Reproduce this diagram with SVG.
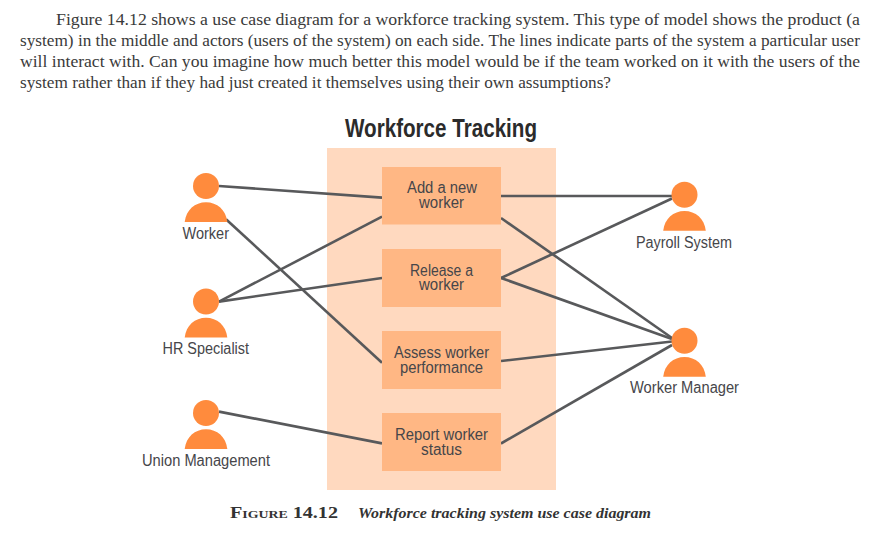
<svg xmlns="http://www.w3.org/2000/svg" width="888" height="535" viewBox="0 0 888 535">
<style>
.body{font:16.5px "Liberation Serif",serif;fill:#3a3a3a}
.title{font:bold 25px "Liberation Sans",Arial,sans-serif;fill:#2b2b2b}
.lbl{font:16px "Liberation Sans",Arial,sans-serif;fill:#46464a;text-anchor:start}
.box{fill:#ffb784}
.fig{fill:#ff8b3d}
.conn line{stroke:#58595b;stroke-width:2.6;fill:none}
.cap1{font:bold 16px "Liberation Serif",serif;font-variant:small-caps;fill:#333}
.cap2{font:italic bold 14.5px "Liberation Serif",serif;fill:#333}
</style>
<defs>
<g id="actor"><circle class="fig" cx="0" cy="0" r="13"/><path class="fig" d="M-21.3,36 C-20,24 -11,16.3 0,16.3 C11,16.3 20,24 21.3,36 Z"/></g>
</defs>
<g id="intro">
<text class="body" x="56" y="25" textLength="804" lengthAdjust="spacingAndGlyphs">Figure 14.12 shows a use case diagram for a workforce tracking system. This type of model shows the product (a</text>
<text class="body" x="20" y="46" textLength="840" lengthAdjust="spacingAndGlyphs">system) in the middle and actors (users of the system) on each side. The lines indicate parts of the system a particular user</text>
<text class="body" x="20" y="67" textLength="840" lengthAdjust="spacingAndGlyphs">will interact with. Can you imagine how much better this model would be if the team worked on it with the users of the</text>
<text class="body" x="20" y="88" textLength="591" lengthAdjust="spacingAndGlyphs">system rather than if they had just created it themselves using their own assumptions?</text>
</g>
<text id="title" class="title" x="345" y="137" textLength="192" lengthAdjust="spacingAndGlyphs">Workforce Tracking</text>
<rect id="system" x="327" y="148" width="229" height="342" fill="#ffd9bf"/>
<g id="connectors" class="conn">
<line x1="219" y1="186" x2="382" y2="197.6"/>
<line x1="226" y1="219.2" x2="382" y2="362.7"/>
<line x1="219" y1="301.6" x2="382" y2="216.7"/>
<line x1="219" y1="301.6" x2="382" y2="278"/>
<line x1="219" y1="411.6" x2="382" y2="443.4"/>
<line x1="501" y1="196" x2="672" y2="196"/>
<line x1="501" y1="218" x2="672" y2="338"/>
<line x1="501" y1="278" x2="672" y2="198.5"/>
<line x1="501" y1="278" x2="672" y2="339"/>
<line x1="501" y1="361" x2="672" y2="341.5"/>
<line x1="501" y1="443.5" x2="672" y2="345"/>
</g>
<g id="uc-add"><rect class="box" x="382" y="167" width="119" height="57.5"/>
<text class="lbl" x="407" y="193" textLength="70" lengthAdjust="spacingAndGlyphs">Add a new</text>
<text class="lbl" x="419" y="208" textLength="45" lengthAdjust="spacingAndGlyphs">worker</text></g>
<g id="uc-release"><rect class="box" x="382" y="249" width="119" height="58"/>
<text class="lbl" x="410" y="275.5" textLength="63" lengthAdjust="spacingAndGlyphs">Release a</text>
<text class="lbl" x="419" y="290" textLength="45" lengthAdjust="spacingAndGlyphs">worker</text></g>
<g id="uc-assess"><rect class="box" x="382" y="331" width="119" height="58"/>
<text class="lbl" x="394" y="358" textLength="95" lengthAdjust="spacingAndGlyphs">Assess worker</text>
<text class="lbl" x="400" y="372.7" textLength="83" lengthAdjust="spacingAndGlyphs">performance</text></g>
<g id="uc-report"><rect class="box" x="382" y="413" width="119" height="58"/>
<text class="lbl" x="395" y="440" textLength="93" lengthAdjust="spacingAndGlyphs">Report worker</text>
<text class="lbl" x="421" y="455" textLength="41" lengthAdjust="spacingAndGlyphs">status</text></g>
<g id="actor-worker"><use href="#actor" x="206" y="186"/>
<text class="lbl" x="182.5" y="239" textLength="46.5" lengthAdjust="spacingAndGlyphs">Worker</text></g>
<g id="actor-hr"><use href="#actor" x="206" y="301.5"/>
<text class="lbl" x="162.5" y="354" textLength="86.5" lengthAdjust="spacingAndGlyphs">HR Specialist</text></g>
<g id="actor-union"><use href="#actor" x="206" y="413"/>
<text class="lbl" x="142" y="466" textLength="128" lengthAdjust="spacingAndGlyphs">Union Management</text></g>
<g id="actor-payroll"><use href="#actor" x="684.5" y="194.7"/>
<text class="lbl" x="636" y="247.5" textLength="96" lengthAdjust="spacingAndGlyphs">Payroll System</text></g>
<g id="actor-manager"><use href="#actor" x="684.5" y="340.7"/>
<text class="lbl" x="630" y="393" textLength="109" lengthAdjust="spacingAndGlyphs">Worker Manager</text></g>
<g id="caption">
<text class="cap1" x="230" y="517.5" textLength="108" lengthAdjust="spacingAndGlyphs">Figure 14.12</text>
<text class="cap2" x="358" y="517.5" textLength="293" lengthAdjust="spacingAndGlyphs">Workforce tracking system use case diagram</text>
</g>
</svg>
